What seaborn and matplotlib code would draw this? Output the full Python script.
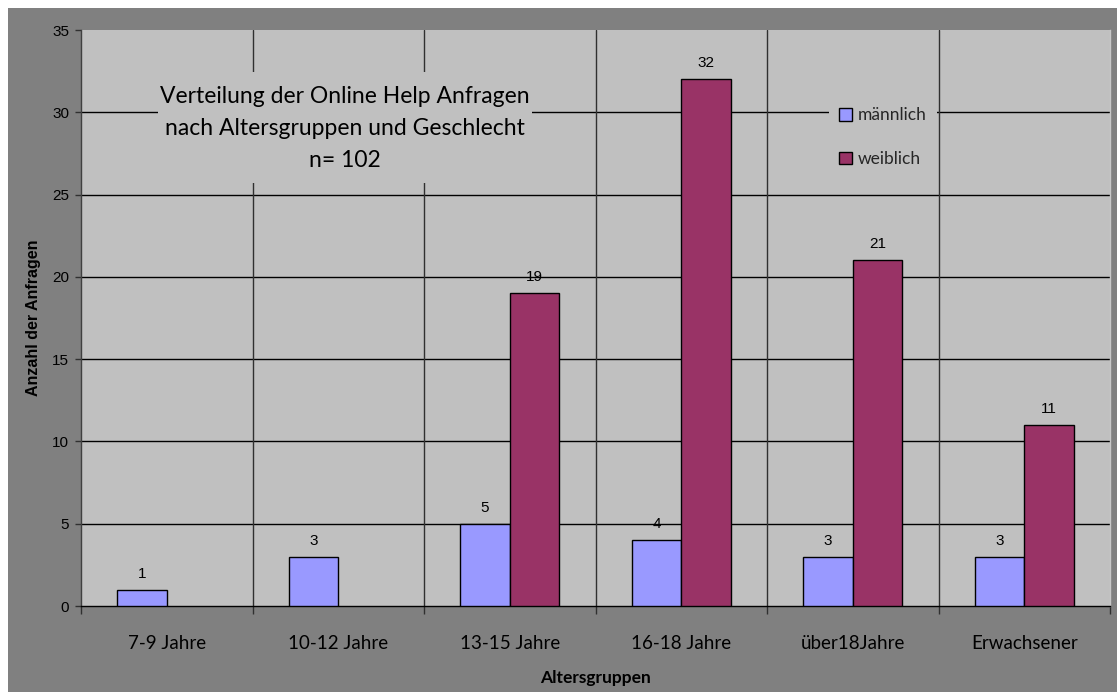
import numpy as np
import pandas as pd
import matplotlib
matplotlib.use("Agg")
import matplotlib.pyplot as plt
from matplotlib.patches import Rectangle
import seaborn as sns

# Data
altersgruppen = ["7-9 Jahre", "10-12 Jahre", "13-15 Jahre", "16-18 Jahre", "über18Jahre", "Erwachsener"]
maennlich = [1, 3, 5, 4, 3, 3]
weiblich = [np.nan, np.nan, 19, 32, 21, 11]
geschlecht = ["männlich", "weiblich"]
farben = ["#9999FF", "#993366"]
y_ticks = [0, 5, 10, 15, 20, 25, 30, 35]

df = pd.DataFrame({
    "Altersgruppe": altersgruppen * 2,
    "Anzahl": maennlich + weiblich,
    "Geschlecht": [geschlecht[0]] * len(altersgruppen) + [geschlecht[1]] * len(altersgruppen),
})

sns.set_theme(style="white")
plt.rcParams["font.family"] = ["Lato", "DejaVu Sans"]

W, H = 1117, 692
fig = plt.figure(figsize=(W / 100, H / 100), dpi=100, facecolor="white")
# dark outer chart area
fig.patches.append(Rectangle((8 / W, 0), 1 - 8 / W, 1 - 8 / H, transform=fig.transFigure,
                             facecolor="#808080", edgecolor="none", zorder=-10))

left, right, top, bottom = 81, 1110, 30, 606
ax = fig.add_axes([left / W, 1 - bottom / H, (right - left) / W, (bottom - top) / H])
ax.set_zorder(1)
ax.set_facecolor("#C0C0C0")

sns.barplot(data=df, x="Altersgruppe", y="Anzahl", hue="Geschlecht", order=altersgruppen,
            hue_order=geschlecht, palette=farben, width=0.58, edgecolor="black",
            linewidth=1.0, saturation=1, ax=ax, zorder=3)

ax.set_xlim(-0.5, len(altersgruppen) - 0.5)
ax.set_ylim(0, 35)
ax.set_yticks(y_ticks)
ax.set_yticklabels([str(t) for t in y_ticks], family="Liberation Sans", fontsize=11, color="black")

# horizontal gridlines
for t in y_ticks[1:-1]:
    ax.axhline(t, color="black", lw=1.0, zorder=1)
# vertical separators between age groups
bounds = np.arange(len(altersgruppen) + 1) - 0.5
for b in bounds[1:-1]:
    ax.axvline(b, color="#303030", lw=1.0, zorder=1)

ax.set_xticks(np.arange(len(altersgruppen)))
ax.set_xticklabels(altersgruppen, fontsize=13.5, color="black")
ax.set_xticks(bounds, minor=True)
ax.tick_params(axis="x", which="major", length=0, pad=21)
ax.tick_params(axis="x", which="minor", length=5.5, width=1.0, color="#303030", direction="out", bottom=True)
ax.tick_params(axis="y", length=4.5, width=1.0, color="#303030", direction="out", pad=4, left=True)

ax.spines["top"].set_visible(False)
ax.spines["right"].set_color("#C8C8C8")
ax.spines["left"].set_color("#404040")
ax.spines["bottom"].set_color("black")
for s in ax.spines.values():
    s.set_linewidth(1.0)

ax.set_xlabel("Altersgruppen", fontsize=12.5, fontweight="bold", color="black", labelpad=13)
ax.set_ylabel("Anzahl der Anfragen", family="Liberation Sans", fontsize=11.5, fontweight="bold",
              color="black", labelpad=8)

# value labels
for cont in ax.containers:
    labels = ["" if (v is None or np.isnan(v) or v == 0) else f"{int(v)}" for v in cont.datavalues]
    ax.bar_label(cont, labels=labels, padding=6.5, family="Liberation Sans", fontsize=11, color="black")

# title box inside the plot (background panel hides the gridlines behind it)
def px_x(p):
    return (p - left) / (right - left)

def px_y(p):
    return 1 - (p - top) / (bottom - top)

ax.add_patch(Rectangle((px_x(158), px_y(183)), px_x(532) - px_x(158), px_y(72) - px_y(183),
                       transform=ax.transAxes, facecolor="#C0C0C0", edgecolor="none", zorder=4))
ax.text(px_x(345), px_y(128.5),
        "Verteilung der Online Help Anfragen\nnach Altersgruppen und Geschlecht\nn= 102",
        transform=ax.transAxes, ha="center", va="center", fontsize=16.5, linespacing=1.62,
        color="black", zorder=5)

leg = ax.legend(loc="upper left", bbox_to_anchor=(px_x(829), px_y(97)),
                frameon=True, fancybox=False, framealpha=1, facecolor="#C0C0C0", edgecolor="none",
                fontsize=12.5, handlelength=0.75, handleheight=0.75, handletextpad=0.3,
                labelspacing=1.6, borderpad=0.6, borderaxespad=0)
leg.set_zorder(5)
for h in leg.legend_handles:
    h.set_edgecolor("black")
    h.set_linewidth(1.0)

fig.savefig("out.png", dpi=100, facecolor=fig.get_facecolor())
